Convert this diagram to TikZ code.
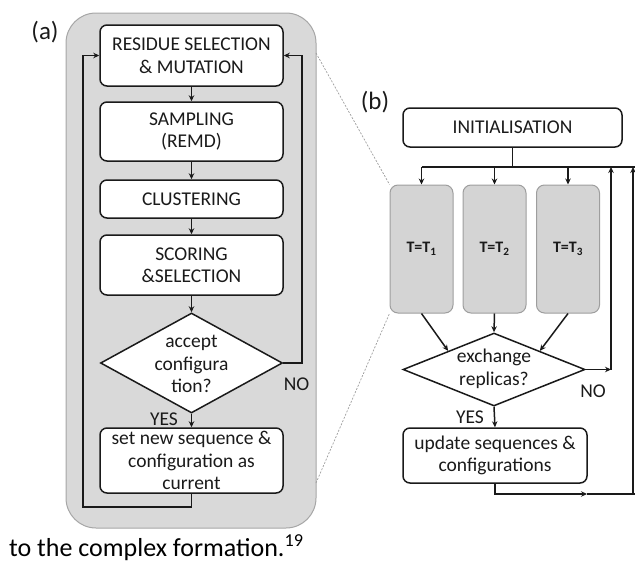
\documentclass[tikz,border=0pt]{standalone}
\usepackage{fontspec}
\setmainfont{Carlito}
\usetikzlibrary{shapes.geometric,arrows.meta}
\definecolor{ink}{HTML}{1A1A1A}
\definecolor{panelgrey}{HTML}{D9D9D9}
\definecolor{paneledge}{HTML}{A6A6A6}
\definecolor{replgrey}{HTML}{D4D4D4}
\definecolor{repledge}{HTML}{9E9E9E}
\tikzset{
  flow/.style={draw=ink, line width=1.5pt},
  arr/.style={flow, -{Stealth[length=6pt,width=5.5pt]}},
  stepbox/.style={draw=ink, line width=1.5pt, fill=white, rounded corners=7pt,
    align=center, inner sep=0pt, text=ink, font=\fontsize{19.5}{22.5}\selectfont},
  decide/.style={draw=ink, line width=1.5pt, fill=white, diamond, inner sep=0pt},
  replica/.style={draw=repledge, line width=1pt, fill=replgrey, rounded corners=8pt,
    minimum width=63pt, minimum height=128pt, inner sep=0pt, text=ink,
    font=\bfseries\fontsize{16}{18}\selectfont},
  txt/.style={text=ink, align=center, inner sep=0pt, font=\fontsize{19.5}{22.5}\selectfont},
  tag/.style={text=ink, inner sep=0pt, font=\fontsize{25}{28}\selectfont},
  zoomline/.style={draw=repledge, line width=0.7pt, dash pattern=on 2pt off 1.5pt},
}
\begin{document}
\begin{tikzpicture}[x=1pt,y=-1pt]
\useasboundingbox (0,0) rectangle (635,565);

% ---------- panel (a) ----------
\node[draw=paneledge, line width=1pt, fill=panelgrey, rounded corners=30pt,
      minimum width=250pt, minimum height=515pt, inner sep=0pt] (panelA) at (191,270.5) {};
\node[tag] (labA) at (45,32) {(a)};

\node[stepbox, minimum width=183pt, minimum height=61pt] (res) at (191.5,55.5)
  {RESIDUE SELECTION\\\& MUTATION};
\node[stepbox, minimum width=183pt, minimum height=59pt] (samp) at (191.5,131.5)
  {SAMPLING\\(REMD)};
\node[stepbox, minimum width=183pt, minimum height=38pt] (clus) at (191.5,199)
  {CLUSTERING};
\node[stepbox, minimum width=183pt, minimum height=60pt] (score) at (191.5,265)
  {SCORING\\\&SELECTION};
\node[decide, minimum width=182pt, minimum height=100pt] (dA) at (191.5,363) {};
\node[txt] (dAtext) at (191.5,364) {accept\\configura\\tion?};
\node[stepbox, minimum width=183pt, minimum height=65pt] (setn) at (191.5,460.5)
  {set new sequence \&\\configuration as\\current};

\node[txt] (noA) at (296.5,384) {NO};
\node[txt] (yesA) at (164,419) {YES};

\draw[arr] (res) -- (samp);
\draw[arr] (samp) -- (clus);
\draw[arr] (clus) -- (score);
\draw[arr] (score) -- (dA);
\draw[arr] (dA) -- (setn);

\coordinate (loopL) at (83,507);
\coordinate (loopR) at (302,363);
\draw[arr] (setn.south) |- (loopL) |- (res.west);
\draw[arr] (dA.east) -- (loopR) |- (res.east);

% ---------- panel (b) ----------
\node[tag] (labB) at (375,102) {(b)};
\node[stepbox, minimum width=219pt, minimum height=39pt] (init) at (512.5,127.5)
  {INITIALISATION};

\node[replica] (r1) at (421.5,249) {T=T\textsubscript{1}};
\node[replica] (r2) at (494.5,249) {T=T\textsubscript{2}};
\node[replica] (r3) at (568,249) {T=T\textsubscript{3}};

\node[decide, minimum width=182pt, minimum height=73pt] (dB) at (494,369.5) {};
\node[txt] (dBtext) at (494,369) {exchange\\replicas?};
\node[stepbox, minimum width=184pt, minimum height=55pt] (upd) at (495,455.5)
  {update sequences \&\\configurations};

\node[txt] (noB) at (593,391) {NO};
\node[txt] (yesB) at (470,417) {YES};

% distribution bus below the initialisation
\coordinate (busL) at (421.5,167);
\coordinate (busR) at (635,167);
\coordinate (busM) at (512.5,167);
\draw[flow] (init.south) -- (busM);
\draw[flow] (busL) -- (busR);
\draw[arr] (busL) -- (r1.north);
\draw[arr] (r2.north |- busM) -- (r2.north);
\draw[arr] (r3.north |- busM) -- (r3.north);

\draw[arr] (r1.south) -- (dB.north west);
\draw[arr] (r2.south) -- (dB.north);
\draw[arr] (r3.south) -- (dB.north east);
\draw[arr] (dB.south) -- (upd.north);

% NO branch back to the bus
\coordinate (noCorner) at (611,369.5);
\coordinate (noTop) at (611,167);
\draw[arr] (dB.east) -- (noCorner);
\draw[arr] (noCorner) -- (noTop);

% return from the update step
\coordinate (retMid) at (587,494);
\coordinate (retCorner) at (633,494);
\coordinate (retTop) at (633,167);
\draw[arr] (upd.south) |- (retMid);
\draw[flow] (retMid) -- (retCorner);
\draw[arr] (retCorner) -- (retTop);
\draw[flow] (retCorner) -- (635,494);

% zoom guide lines from panel (a) to the first replica
\coordinate (zA1) at (316,53);
\coordinate (zA2) at (316,483);
\draw[zoomline] (zA1) -- (r1.north west);
\draw[zoomline] (zA2) -- (r1.south west);

% ---------- caption fragment ----------
\node[anchor=base west, inner sep=0pt, text=black, font=\fontsize{26}{30}\selectfont]
  (caption) at (9,556) {to the complex formation.\textsuperscript{19}};
\end{tikzpicture}
\end{document}
